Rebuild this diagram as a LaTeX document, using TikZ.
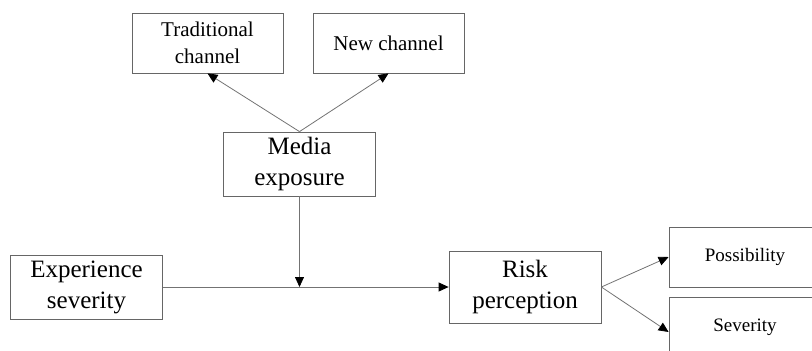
\documentclass[tikz,border=0pt]{standalone}
\usepackage{fontspec}
\setmainfont{Liberation Serif}
\usetikzlibrary{arrows.meta}

\tikzset{
  box/.style={draw=black!60, line width=0.8pt, align=center, inner sep=0pt},
  smallbox/.style={box, minimum width=151pt, minimum height=60pt, font=\fontsize{21}{27}\selectfont},
  bigbox/.style={box, minimum width=152pt, minimum height=64pt, font=\fontsize{25}{31}\selectfont},
  tinybox/.style={box, minimum width=152pt, minimum height=60pt, font=\fontsize{19}{23}\selectfont},
  link/.style={draw=black!55, line width=0.8pt, -{Triangle[length=10pt,width=9pt,color=black]}}
}

\begin{document}
\begin{tikzpicture}[x=1pt, y=-1pt]
    \useasboundingbox (0, 0) rectangle (812, 351);
    \clip (0, 0) rectangle (812, 351);

    \node[smallbox] (trad) at (207.5, 43) {Traditional\\channel};
    \node[smallbox] (new) at (388.5, 43) {New channel};
    \node[bigbox] (media) at (299.5, 164) {Media\\exposure};
    \node[bigbox] (exper) at (86.5, 287) {Experience\\severity};
    \node[bigbox, minimum height=72pt] (risk) at (525, 287) {Risk\\perception};
    \node[tinybox] (poss) at (745, 257) {Possibility};
    \node[tinybox] (sev) at (745, 327) {Severity};

    \coordinate (join) at (media.south |- exper.east);

    \draw[link] (media.north) -- (trad.south);
    \draw[link] (media.north) -- (new.south);
    \draw[link] (media.south) -- (join);
    \draw[link] (exper.east) -- (risk.west);
    \draw[link] (risk.east) -- (poss.west);
    \draw[link] (risk.east) -- ([yshift=-5pt]sev.north west |- sev.west);
\end{tikzpicture}
\end{document}
